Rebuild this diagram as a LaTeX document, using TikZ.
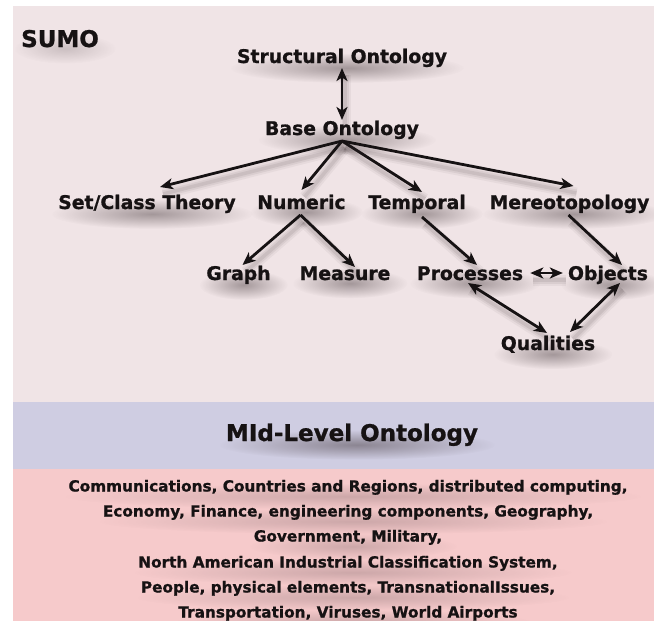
\documentclass[tikz,border=0pt]{standalone}
\usepackage{fontspec}
\setmainfont{DejaVu Sans}[BoldFeatures={FakeBold=1}]
\usetikzlibrary{arrows.meta,calc,fadings}
\pgfdeclarelayer{back}
\pgfdeclarelayer{shd}
\pgfsetlayers{back,shd,main}
\definecolor{topbg}{HTML}{F0E4E6}
\definecolor{midbg}{HTML}{CFCDE2}
\definecolor{botbg}{HTML}{F6CACB}
\definecolor{ink}{HTML}{161213}
\definecolor{shade}{HTML}{3A2E31}
\tikzfading[name=softblob, inner color=transparent!0, outer color=transparent!100]
\tikzset{
  lbl/.style={inner sep=0pt, anchor=base, text=ink,
    font=\bfseries\fontsize{18.8}{22}\selectfont},
  biglbl/.style={lbl, font=\bfseries\fontsize{23}{26}\selectfont},
  listline/.style={lbl, font=\bfseries\fontsize{15.3}{18}\selectfont},
  blob/.style={fill=shade, fill opacity=#1, path fading=softblob},
  ashadow/.style={
    preaction={draw=shade, -, line width=11pt, opacity=0.05, transform canvas={xshift=3pt,yshift=-7pt}},
    preaction={draw=shade, -, line width=7pt, opacity=0.07, transform canvas={xshift=3pt,yshift=-7pt}},
    preaction={draw=shade, -, line width=3.5pt, opacity=0.09, transform canvas={xshift=3pt,yshift=-7pt}}},
  conn/.style={ashadow, line width=2.8pt, draw=ink, -{Stealth[length=13pt,width=11pt,inset=3.5pt]}},
  biconn/.style={ashadow, line width=2.8pt, draw=ink, {Stealth[length=13pt,width=11pt,inset=3.5pt]}-{Stealth[length=13pt,width=11pt,inset=3.5pt]}},
}
\begin{document}
\begin{tikzpicture}[x=1pt,y=-1pt]
\useasboundingbox (0,0) rectangle (654,621);
\begin{pgfonlayer}{back}
\fill[white] (0,0) rectangle (654,621);
\fill[topbg] (12.5,6) rectangle (654,402);
\fill[midbg] (12.5,402) rectangle (654,469);
\fill[botbg] (12.5,469) rectangle (654,621);
\end{pgfonlayer}

\node[biglbl, anchor=base west] (sumo) at (21,47) {SUMO};
\node[lbl] (struct) at (342,63) {Structural Ontology};
\node[lbl] (base) at (342,135) {Base Ontology};
\node[lbl] (set) at (147,209) {Set/Class Theory};
\node[lbl] (num) at (301.5,209) {Numeric};
\node[lbl] (temp) at (417,209) {Temporal};
\node[lbl] (mereo) at (569.5,209) {Mereotopology};
\node[lbl] (graph) at (238.5,280) {Graph};
\node[lbl] (meas) at (345,280) {Measure};
\node[lbl] (proc) at (470,280) {Processes};
\node[lbl] (obj) at (608,280) {Objects};
\node[lbl] (qual) at (548,350) {Qualities};

\node[biglbl] (mid) at (352,441) {MId-Level Ontology};

\node[listline] (l1) at (348,491.5) {Communications, Countries and Regions, distributed computing,};
\node[listline] (l2) at (348,516.5) {Economy, Finance, engineering components, Geography,};
\node[listline] (l3) at (348,541.5) {Government, Military,};
\node[listline] (l4) at (348,567.5) {North American Industrial Classification System,};
\node[listline] (l5) at (348,592.5) {People, physical elements, TransnationalIssues,};
\node[listline] (l6) at (348,617.5) {Transportation, Viruses, World Airports};

\begin{pgfonlayer}{shd}
\begin{scope}
\clip (12.5,6) rectangle (654,621);
\foreach \nd/\op in {sumo/0.2,struct/0.42,base/0.42,set/0.42,num/0.42,temp/0.42,mereo/0.42,graph/0.42,meas/0.42,proc/0.42,obj/0.42,qual/0.42,mid/0.45}{
  \path[blob=\op] let \p1=($(\nd.east)-(\nd.west)$) in
    ($(\nd.center)+(5,10)$) ellipse [x radius={0.5*\x1+12pt}, y radius=15pt];
}
\foreach \nd in {l1,l2,l3,l4,l5,l6}{
  \path[blob=0.22] let \p1=($(\nd.east)-(\nd.west)$) in
    ($(\nd.center)+(5,9)$) ellipse [x radius={0.5*\x1+10pt}, y radius=13pt];
}
\end{scope}

\coordinate (fan) at ($(base.base)+(0,6)$);

\draw[biconn] ($(struct.base)+(0,5)$) -- ($(base.base)+(0,-15)$);
\draw[conn] (fan) -- ($(set.base)+(13,-22)$);
\draw[conn] (fan) -- ($(num.base)+(0,-19)$);
\draw[conn] (fan) -- ($(temp.base)+(5,-17)$);
\draw[conn] (fan) -- ($(mereo.base)+(4,-23)$);
\draw[conn] ($(num.base)+(-1,6)$) -- ($(graph.base)+(4,-15)$);
\draw[conn] ($(num.base)+(-1,6)$) -- ($(meas.base)+(10,-13)$);
\draw[conn] ($(temp.base)+(5,8)$) -- ($(proc.base)+(7,-15)$);
\draw[conn] ($(mereo.base)+(-1,6)$) -- ($(obj.base)+(14,-15)$);
\draw[biconn] ($(proc.base east)+(7,-7)$) -- ($(obj.base west)+(-5,-7)$);
\draw[biconn] ($(proc.base)+(-2,3)$) -- ($(qual.base)+(-1,-17)$);
\draw[biconn] ($(obj.base)+(12,3)$) -- ($(qual.base)+(22,-18)$);
\end{pgfonlayer}
\end{tikzpicture}
\end{document}
